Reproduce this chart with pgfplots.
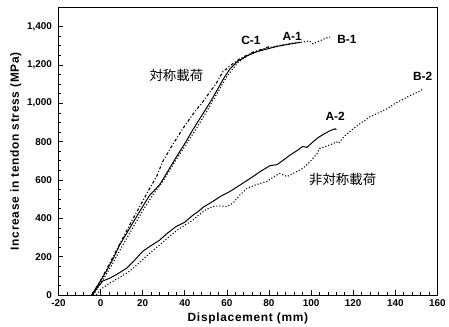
\documentclass[border={7pt 0pt 0pt 7pt}]{standalone}
\usepackage{pgfplots}
\pgfplotsset{compat=1.18}
\usepackage{fontspec}
\setmainfont{Liberation Sans}
\newfontfamily\lblfont[LetterSpace=6]{Liberation Sans}
\newfontfamily\cjk{Noto Sans CJK JP}
\begin{document}
\begin{tikzpicture}
\begin{axis}[
  scale only axis,
  width=382pt, height=290pt,
  xmin=-20, xmax=160, ymin=0, ymax=1500,
  xtick={-20,0,...,160},
  ytick={0,200,...,1400},
  minor x tick num=4,
  minor y tick num=3,
  xtick pos=bottom, ytick pos=left,
  tick align=inside,
  major tick length=5pt, minor tick length=3pt,
  /pgf/number format/assume math mode=true,
  /pgf/number format/1000 sep={,},
  ticklabel style={font=\fontsize{10}{10}\selectfont\bfseries},
  xticklabel style={yshift=-1pt},
  yticklabel style={xshift=-3pt},
  xlabel={\lblfont\fontsize{12}{12}\selectfont\bfseries Displacement (mm)},
  ylabel={\lblfont\fontsize{12}{12}\selectfont\bfseries Increase in tendon stress (MPa)},
  xlabel style={yshift=1pt},
  ylabel style={yshift=-1pt},
  axis line style={line width=0.9pt},
  every tick/.style={black, line width=0.7pt},
]
% A-1 solid
\addplot[black, line width=1pt] coordinates {
(-4.3,0)(-2,40)(0,75)(3,130)(6,190)(9,260)(12,315)(15,370)(18.6,436)(21,480)(23.3,520)(25.7,548)(28,575)(30,610)(33,665)(36,720)(40,790)(44,865)(48,935)(52,1005)(55.7,1075)(58.5,1130)(61.4,1179)(65,1218)(69.5,1247)(74,1268)(79,1283)(84,1297)(90,1309)(95,1318)
};
% B-1 dotted
\addplot[black, line width=1.1pt, dash pattern=on 1.1pt off 2pt] coordinates {
(-3.5,0)(0,60)(5,150)(10,250)(15,345)(20,440)(25,525)(30,600)(35,690)(40,775)(45,860)(50,950)(55,1045)(60,1140)(65,1210)(70,1250)(75,1275)(80,1290)(85,1302)(90,1312)(95,1318)(99,1325)(101,1310)(104,1325)(107,1340)(109,1345)
};
% C-1 dash-dot
\addplot[black, line width=1.1pt, dash pattern=on 3pt off 2pt on 1pt off 2pt] coordinates {
(-4,0)(0,75)(5,180)(10,285)(15,390)(20,490)(23.3,556)(26.7,620)(29.5,696)(34,780)(39,867)(44,945)(48.6,1008)(52,1060)(55,1105)(58,1163)(62,1200)(66,1231)(72.4,1267)(77,1283)(80,1295)
};
% A-2 solid
\addplot[black, line width=1pt] coordinates {
(-3.8,0)(-1.5,40)(1,73)(4.3,88)(8,110)(12.4,140)(16,180)(20,228)(24,258)(28,286)(32,325)(36,358)(40,380)(43.8,416)(45.7,430)(49,460)(53.3,488)(57,515)(61.4,540)(65,565)(69.5,597)(72.4,618)(76,645)(80.5,675)(83.8,680)(87,705)(90,730)(93.3,753)(96,775)(98,770)(101,800)(104,826)(107,845)(109,857)(111.4,867)(112,862)
};
% B-2 dotted
\addplot[black, line width=1.1pt, dash pattern=on 1.1pt off 2pt] coordinates {
(-2,0)(0,30)(4,60)(8,85)(12.4,114)(16,145)(20,185)(24,225)(28,260)(32,300)(36,335)(40,365)(43.8,390)(47,420)(50,445)(53.3,462)(57,465)(60,462)(63,480)(66,520)(69.5,556)(72.5,570)(75.7,582)(79,592)(82,615)(85,634)(88.6,618)(91.4,634)(96,660)(99,690)(102.9,738)(104,764)(107,775)(110.5,790)(112,800)(113,792)(116,830)(120,867)(124,900)(128,930)(132,950)(136,971)(140,1000)(144,1023)(148,1045)(152,1065)(153,1075)
};
\node[font=\fontsize{12}{12}\selectfont\bfseries] at (axis cs:71.4,1330) {C-1};
\node[font=\fontsize{12}{12}\selectfont\bfseries] at (axis cs:91,1348) {A-1};
\node[font=\fontsize{12}{12}\selectfont\bfseries] at (axis cs:117,1335) {B-1};
\node[font=\fontsize{12}{12}\selectfont\bfseries] at (axis cs:111.4,930) {A-2};
\node[font=\fontsize{12}{12}\selectfont\bfseries] at (axis cs:153,1138) {B-2};
\node[font=\cjk\fontsize{13.5}{14}\selectfont] at (axis cs:36,1145) {対称載荷};
\node[font=\cjk\fontsize{13.5}{14}\selectfont] at (axis cs:115,603) {非対称載荷};
\end{axis}
\end{tikzpicture}
\end{document}
